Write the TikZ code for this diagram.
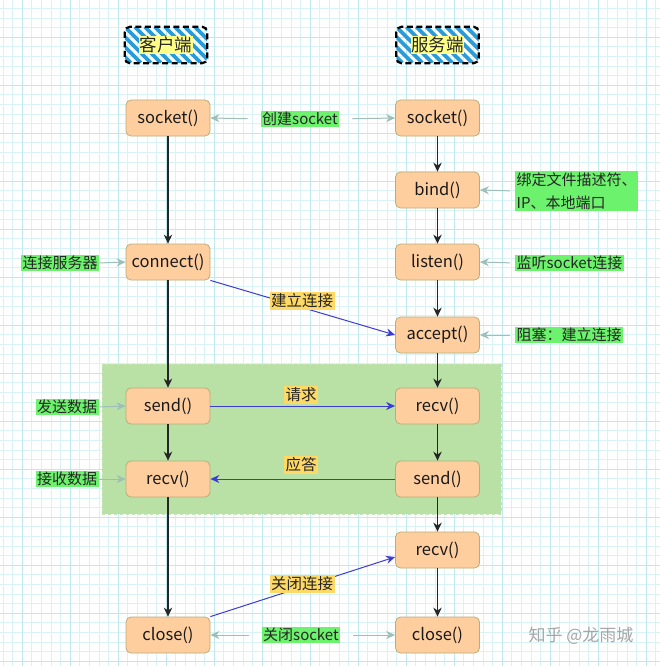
\documentclass[tikz,border=0pt]{standalone}
\usepackage{fontspec}
\setmainfont{Noto Sans CJK SC}
\usetikzlibrary{arrows.meta}
\definecolor{boxfill}{HTML}{FFCE9F}
\definecolor{boxline}{HTML}{B9AE78}
\definecolor{glab}{HTML}{6CF26C}
\definecolor{olab}{HTML}{FFD966}
\definecolor{notec}{HTML}{9DBFB8}
\definecolor{msgblue}{HTML}{3C3CD2}
\definecolor{region}{HTML}{B9E0A5}
\definecolor{gridminor}{HTML}{D8F2F5}
\definecolor{gridmajor}{HTML}{BFE9EC}
\definecolor{stripe}{HTML}{2A9BD6}
\definecolor{hl}{HTML}{FFFF88}
\begin{document}
\begin{tikzpicture}[x=1pt,y=-1pt,
  fn/.style={draw=boxline, fill=boxfill, rounded corners=5pt, minimum width=84pt,
    minimum height=36pt, inner sep=0pt, line width=0.8pt, text=black!90, font=\fontsize{16.5}{18}\selectfont},
  glabel/.style={fill=glab, inner sep=1.5pt, text=black!85, align=left, font=\fontsize{15}{23}\selectfont},
  olabel/.style={fill=olab, inner sep=1.5pt, text=black!85, font=\fontsize{15.5}{17}\selectfont},
  flow/.style={-{Stealth[length=9pt,width=8.5pt]}, line width=1.2pt, draw=black!85},
  note/.style={-{Stealth[length=9pt,width=8pt]}, line width=1pt, draw=notec},
  msg/.style={-{Stealth[length=9pt,width=8pt]}, line width=1pt, draw=msgblue},
  hdr/.style={minimum width=82pt, minimum height=36pt, inner sep=0pt}]
\useasboundingbox (0,0) rectangle (660,666);
\fill[white] (0,0) rectangle (660,666);
% grid
\foreach \i in {-2,...,66} {
  \pgfmathsetmacro{\gx}{22+9.6*\i}
  \draw[gridminor, line width=0.5pt] (\gx,0) -- (\gx,666);
}
\foreach \i in {-3,...,66} {
  \pgfmathsetmacro{\gy}{37+9.6*\i}
  \draw[gridminor, line width=0.5pt] (0,\gy) -- (660,\gy);
}
\foreach \i in {0,...,13} {
  \draw[gridmajor, line width=0.7pt] (22+48*\i,0) -- (22+48*\i,666);
}
\foreach \i in {-1,...,13} {
  \draw[gridmajor, line width=0.7pt] (0,37+48*\i) -- (660,37+48*\i);
}
% green region
\fill[region] (102,364) rectangle (501,514);
\draw[region!80!white, dashed, line width=0.6pt] (102,364) rectangle (501,514);

% headers
\node[hdr] (hc) at (166,45) {};
\node[hdr] (hs) at (437.5,45) {};
\foreach \h in {hc,hs} {
  \begin{scope}
    \clip[rounded corners=5pt] (\h.north west) rectangle (\h.south east);
    \foreach \k in {-50,-40,...,90}
      \draw[stripe, line width=3.6pt] ([xshift=\k pt]\h.north west) -- ++(36,36);
  \end{scope}
}
\node[fill=hl, inner sep=0.5pt, font=\fontsize{17.5}{19}\selectfont, text=black!85] at (hc) {客户端};
\node[fill=hl, inner sep=0.5pt, font=\fontsize{17.5}{19}\selectfont, text=black!85] at (hs) {服务端};
\foreach \h in {hc,hs}
  \draw[black, line width=2.2pt, dash pattern=on 6pt off 3.5pt, rounded corners=5pt]
    (\h.north west) rectangle (\h.south east);

% client column
\node[fn] (sockL) at (168,118) {socket()};
\node[fn] (conn) at (168,262) {connect()};
\node[fn] (sendL) at (168,406) {send()};
\node[fn] (recvL) at (168,479) {recv()};
\node[fn] (closeL) at (168,635) {close()};
% server column
\node[fn] (sockR) at (437.5,118) {socket()};
\node[fn] (bind) at (437.5,190) {bind()};
\node[fn] (listen) at (437.5,262) {listen()};
\node[fn] (accept) at (437.5,335) {accept()};
\node[fn] (recvR) at (437.5,406) {recv()};
\node[fn] (sendR) at (437.5,479) {send()};
\node[fn] (recvR2) at (437.5,550) {recv()};
\node[fn] (closeR) at (437.5,635) {close()};

% vertical flow
\draw[flow] (sockL) -- (conn);
\draw[flow] (conn) -- (sendL);
\draw[flow] (sendL) -- (recvL);
\draw[flow] (recvL) -- (closeL);
\draw[flow] (sockR) -- (bind);
\draw[flow] (bind) -- (listen);
\draw[flow] (listen) -- (accept);
\draw[flow] (accept) -- (recvR);
\draw[flow] (recvR) -- (sendR);
\draw[flow] (sendR) -- (recvR2);
\draw[flow] (recvR2) -- (closeR);

% labels
\node[glabel] (cs) at (300,119) {创建socket};
\node[glabel, anchor=west] (bindL) at (515,191) {绑定文件描述符、\\IP、本地端口};
\node[glabel, anchor=west] (listenL) at (515,263) {监听socket连接};
\node[glabel, anchor=west] (acceptL) at (515,335) {阻塞：建立连接};
\node[glabel] (connL) at (60,263) {连接服务器};
\node[glabel] (sendLL) at (67,407) {发送数据};
\node[glabel] (recvLL) at (67,479) {接收数据};
\node[glabel] (clsL) at (301,635) {关闭socket};

\draw[note, shorten <=13pt] (cs.west) -- (sockL.east);
\draw[note, shorten <=13pt] (cs.east) -- (sockR.west);
\draw[note, shorten <=5pt] (bindL.west) -- (bind.east);
\draw[note, shorten <=5pt] (listenL.west) -- (listen.east);
\draw[note, shorten <=5pt] (acceptL.west) -- (accept.east);
\draw[note] (connL.east) -- (conn.west);
\draw[note] (sendLL.east) -- (sendL.west);
\draw[note] (recvLL.east) -- (recvL.west);
\draw[note, shorten <=13pt] (clsL.west) -- (closeL.east);
\draw[note, shorten <=13pt] (clsL.east) -- (closeR.west);

% messages
\draw[msg] (conn.south east) -- (accept.west);
\draw[msg] (sendL.east) -- (recvR.west);
\draw[msg] (sendR.west) -- (recvL.east);
\draw[msg] (closeL.north east) -- ([yshift=-7pt]recvR2.west);
\node[olabel] (l1) at (302,301) {建立连接};
\node[olabel] (l2) at (301,395) {请求};
\node[olabel] (l3) at (301,465) {应答};
\node[olabel] (l4) at (302,584) {关闭连接};

% watermark
\node[text=black!35, font=\fontsize{17}{19}\selectfont] (wm) at (581,636) {知乎 @龙雨城};
\end{tikzpicture}
\end{document}
